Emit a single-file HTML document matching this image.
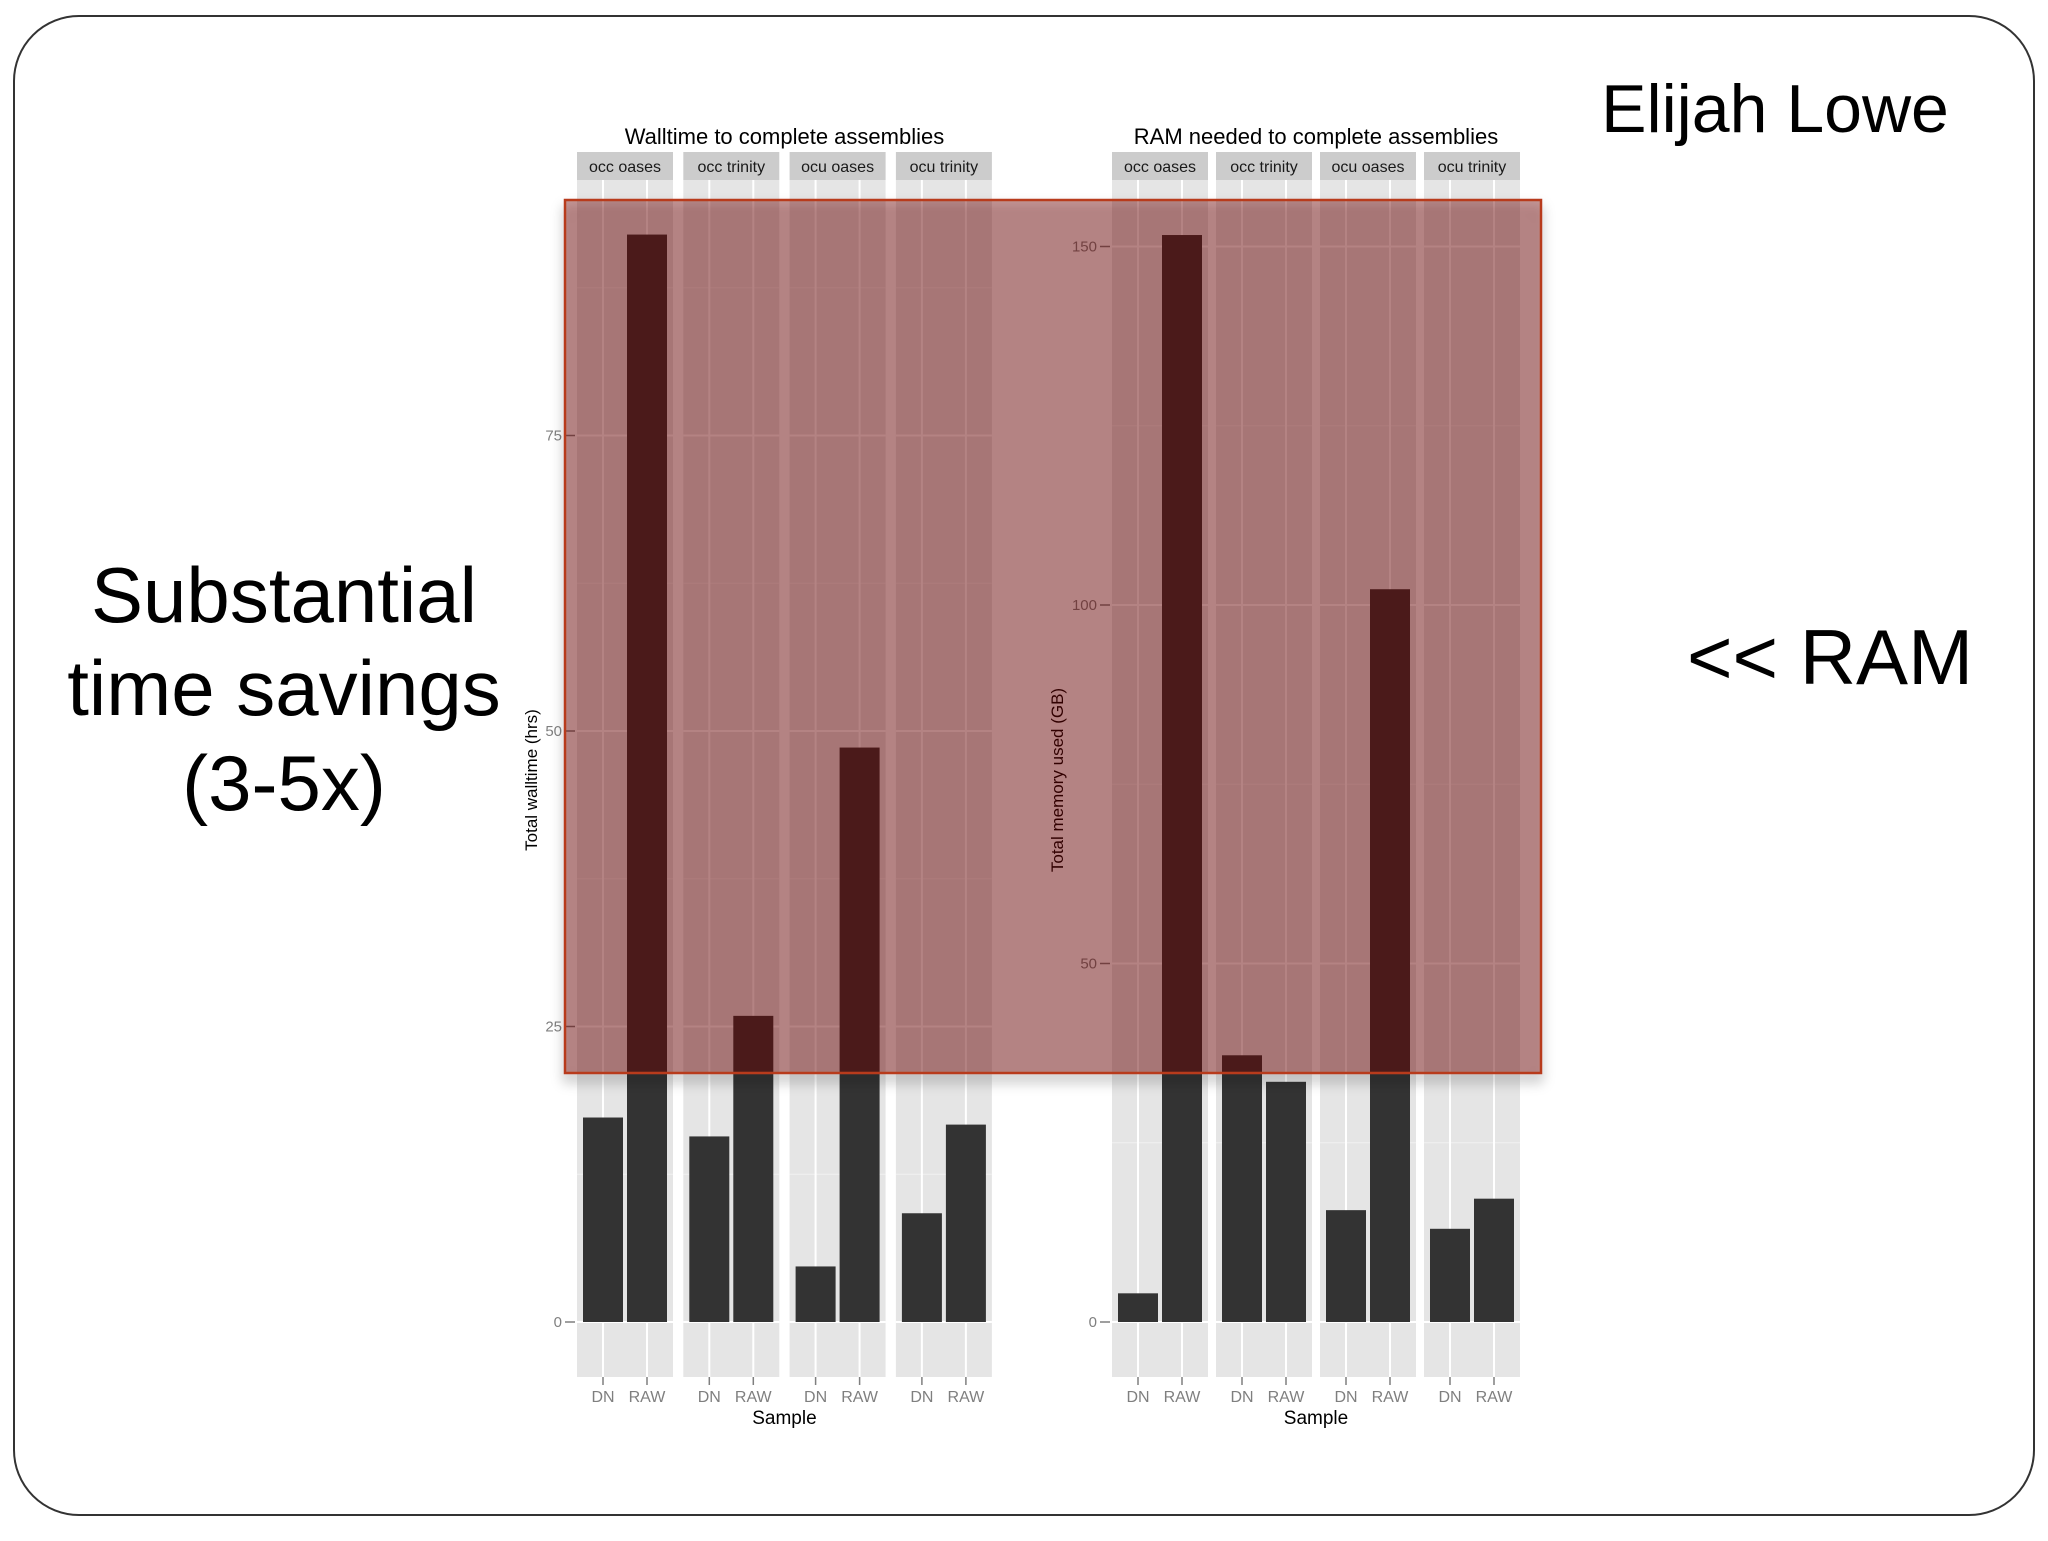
<!DOCTYPE html>
<html><head><meta charset="utf-8">
<style>
html,body{margin:0;padding:0;background:#fff;}
svg text{font-family:"Liberation Sans",sans-serif;}
</style></head>
<body>
<svg id="s" width="2048" height="1536" viewBox="0 0 2048 1536" xmlns="http://www.w3.org/2000/svg">
<defs>
<filter id="sh" x="-5%" y="-5%" width="110%" height="115%"><feDropShadow dx="0" dy="8" stdDeviation="6" flood-color="#000" flood-opacity="0.35"/></filter>
</defs>
<rect x="14" y="16" width="2020" height="1499" rx="65" fill="#fff" stroke="#333" stroke-width="2"/>
<text x="1775" y="132" font-size="68" text-anchor="middle" fill="#000">Elijah Lowe</text>
<g font-size="78" text-anchor="middle" fill="#000">
<text x="284" y="622">Substantial</text>
<text x="284" y="715">time savings</text>
<text x="284" y="810">(3-5x)</text>
</g>
<text x="1830" y="684" font-size="78" text-anchor="middle" fill="#000">&lt;&lt; RAM</text>
<g id="charts"></g>
<g id="overlay"></g>
</svg>
<script>
const facets = ["occ oases","occ trinity","ocu oases","ocu trinity"];
const samples = ["DN","RAW"];
const walltimeValues = [[17.3,92],[15.7,25.9],[4.7,48.6],[9.2,16.7]];
const ramValues = [[4.0,151.6],[37.2,33.5],[15.6,102.2],[13.0,17.2]];
const walltimeTicks = [0,25,50,75];
const ramTicks = [0,50,100,150];

const NS="http://www.w3.org/2000/svg";
function mk(tag,attrs,parent){const e=document.createElementNS(NS,tag);for(const k in attrs)e.setAttribute(k,attrs[k]);parent.appendChild(e);return e;}
const root=document.getElementById('charts');

function chart(cfg){
  const g=mk('g',{},root);
  
  
  const top=180,bottom=1377,y0=1322;
  const y=v=>y0-v*cfg.ppu;
  const pw=96,gap=cfg.gap;
  const t=mk('text',{x:cfg.x0+(4*pw+3*gap)/2,y:144,'font-size':22,'text-anchor':'middle',fill:'#000'},g);
  t.textContent=cfg.title;
  
  
  facets.forEach((f,i)=>{
    const px=cfg.x0+i*(pw+gap);
    const strip=mk('rect',{x:px,y:152,width:pw,height:28,fill:'#cccccc'},g);
    
    
    const st=mk('text',{x:px+pw/2,y:172,'font-size':16,'text-anchor':'middle',fill:'#1a1a1a'},g);
    st.textContent=f;
    
    
    const bg=mk('rect',{x:px,y:top,width:pw,height:bottom-top,fill:'#e5e5e5'},g);
    
    
    for(let k=0;k<cfg.ticks.length;k++){
      const mv=cfg.ticks[k]+ (cfg.ticks[1]-cfg.ticks[0])/2;
      if(y(mv)>top) mk('line',{x1:px,x2:px+pw,y1:y(mv),y2:y(mv),stroke:'#f2f2f2','stroke-width':1},g);
    }
    cfg.ticks.forEach(tv=>mk('line',{x1:px,x2:px+pw,y1:y(tv),y2:y(tv),stroke:'#fff','stroke-width':2},g));
    const bw=40;
    const centers=[px+26,px+70];
    centers.forEach(c=>mk('line',{x1:c,x2:c,y1:top,y2:bottom,stroke:'#fff','stroke-width':2},g));
    samples.forEach((s,j)=>{
      const v=cfg.values[i][j];
      const b=mk('rect',{x:centers[j]-bw/2,y:y(v),width:bw,height:y(0)-y(v),fill:'#333333'},g);
      
      
      mk('line',{x1:centers[j],x2:centers[j],y1:bottom,y2:bottom+8,stroke:'#7f7f7f','stroke-width':1.5},g);
      const xl=mk('text',{x:centers[j],y:1402,'font-size':16,'text-anchor':'middle',fill:'#7f7f7f'},g);
      xl.textContent=s;
      
      
    });
  });
  cfg.ticks.forEach(tv=>{
    mk('line',{x1:cfg.x0-12,x2:cfg.x0-2,y1:y(tv),y2:y(tv),stroke:'#7f7f7f','stroke-width':1.5},g);
    const tl=mk('text',{x:cfg.x0-15,y:y(tv)+5,'font-size':15,'text-anchor':'end',fill:'#7f7f7f'},g);
    tl.textContent=tv;
    
    
  });
  const xt=mk('text',{x:cfg.x0+(4*pw+3*gap)/2,y:1424,'font-size':19,'text-anchor':'middle',fill:'#000'},g);
  xt.textContent='Sample';
  
  
  const yt=mk('text',{x:cfg.ytx,y:780,'font-size':17,'text-anchor':'middle',fill:'#000',transform:'rotate(-90 '+cfg.ytx+' 780)'},g);
  yt.textContent=cfg.ytitle;
  
  
}
chart({name:'walltime-chart',title:'Walltime to complete assemblies',x0:577,gap:10.3,ppu:11.82,values:walltimeValues,ticks:walltimeTicks,ytitle:'Total walltime (hrs)',ytx:537});
chart({name:'ram-chart',title:'RAM needed to complete assemblies',x0:1112,gap:8,ppu:7.17,values:ramValues,ticks:ramTicks,ytitle:'Total memory used (GB)',ytx:1063});

const ov=document.getElementById('overlay');
const r=mk('rect',{x:565,y:200,width:976,height:873,fill:'rgba(110,12,0,0.40)',stroke:'#b83a1e','stroke-width':2.5,filter:'url(#sh)'},ov);


</script>
</body></html>
